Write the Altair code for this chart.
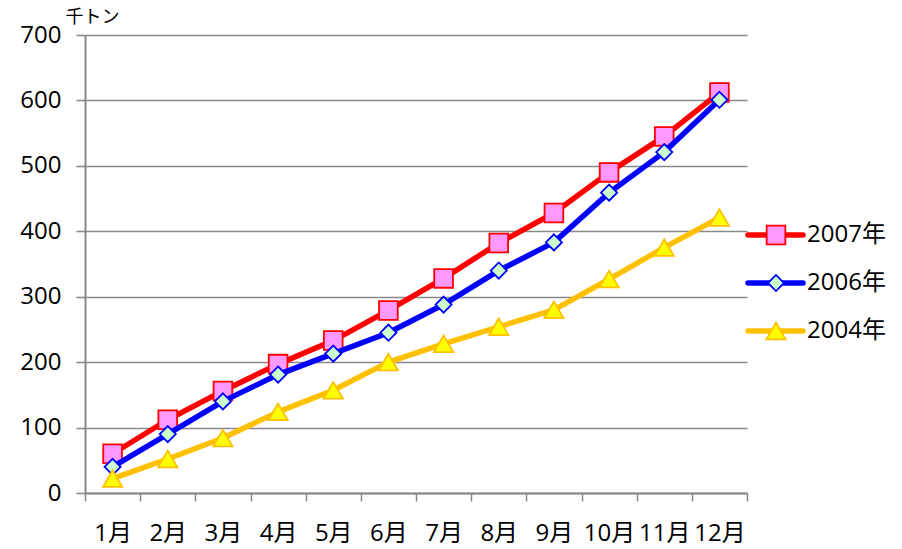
import altair as alt
import pandas as pd

# Monthly cumulative volume (thousand tonnes)
months = ["1月", "2月", "3月", "4月", "5月", "6月", "7月", "8月", "9月", "10月", "11月", "12月"]
v2007 = [60, 112, 156, 197, 233, 279, 328, 382, 428, 490, 545, 612]
v2006 = [40, 90, 140, 181, 213, 245, 288, 340, 383, 459, 521, 601]
v2004 = [22, 52, 84, 124, 157, 200, 228, 254, 280, 327, 375, 421]

series_names = ["2007年", "2006年", "2004年"]
series_values = [v2007, v2006, v2004]
line_colors = ["#FF0000", "#0000FF", "#FFC000"]
marker_fills = ["#FF99FF", "#CCFFCC", "#FFFF00"]
marker_shapes = ["square", "diamond", "triangle-up"]
marker_sizes = [350, 260, 370]

FONT = "'Open Sans', 'Noto Sans CJK JP', sans-serif"
CJK = "'Noto Sans CJK JP', sans-serif"
GRID = "#888888"
FS = 24
LINE_W = 5.5

W, H = 662, 458

rows = []
for name, vals in zip(series_names, series_values):
    for m, v in zip(months, vals):
        rows.append({"series": name, "month": m, "value": v})
df = pd.DataFrame(rows)

x_enc = alt.X(
    "month:N",
    sort=months,
    bandPosition=0.5,
    scale=alt.Scale(type="band", paddingInner=0, paddingOuter=0),
    axis=alt.Axis(
        title=None, labelAngle=0, tickBand="extent", grid=False,
        tickSize=8, tickColor=GRID, tickWidth=1.5,
        domainColor=GRID, domainWidth=2,
        labelFont=FONT, labelFontSize=FS, labelColor="#000000",
        labelPadding=20, labelBaseline="top",
    ),
)
y_enc = alt.Y(
    "value:Q",
    scale=alt.Scale(domain=[0, 700], nice=False, zero=True),
    axis=alt.Axis(
        values=list(range(0, 701, 100)), grid=True,
        gridColor=GRID, gridWidth=1.6,
        tickSize=9, tickColor=GRID, tickWidth=1.6,
        domainColor=GRID, domainWidth=2,
        labelFont=FONT, labelFontSize=FS, labelColor="#000000",
        labelPadding=15,
        title="千トン", titleAngle=0, titleAlign="left", titleBaseline="middle",
        titleX=-20, titleY=-18, titleFont=CJK, titleFontSize=18,
        titleFontWeight="normal", titleColor="#000000",
    ),
)

layers = []
for name, lc, fc, shp, sz in zip(series_names, line_colors, marker_fills, marker_shapes, marker_sizes):
    base = alt.Chart(df).transform_filter(alt.datum.series == name)
    layers.append(
        base.mark_line(color=lc, strokeWidth=LINE_W, strokeJoin="round").encode(x=x_enc, y=y_enc)
    )
    layers.append(
        base.mark_point(shape=shp, size=sz, filled=True, fill=fc, stroke=lc,
                        strokeWidth=1.8, opacity=1).encode(x=x_enc, y=y_enc)
    )

# Legend drawn to the right of the plot area
legend_df = pd.DataFrame({"series": series_names})
LEG_LINE_X0, LEG_LINE_X1, LEG_SYM_X, LEG_TEXT_X = 663, 718, 691, 722
LEG_TOP, LEG_GAP = 200, 48
for i, (name, lc, fc, shp, sz) in enumerate(zip(series_names, line_colors, marker_fills, marker_shapes, marker_sizes)):
    ly = LEG_TOP + i * LEG_GAP
    lb = alt.Chart(legend_df).transform_filter(alt.datum.series == name)
    layers.append(
        lb.mark_rule(color=lc, strokeWidth=LINE_W, strokeCap="round").encode(
            x=alt.value(LEG_LINE_X0), x2=alt.value(LEG_LINE_X1), y=alt.value(ly)
        )
    )
    layers.append(
        lb.mark_point(shape=shp, size=sz, filled=True, fill=fc, stroke=lc,
                      strokeWidth=1.8, opacity=1).encode(
            x=alt.value(LEG_SYM_X), y=alt.value(ly)
        )
    )
    layers.append(
        lb.mark_text(align="left", baseline="middle", font=FONT, fontSize=FS,
                     color="#000000").encode(
            x=alt.value(LEG_TEXT_X), y=alt.value(ly), text="series:N"
        )
    )

chart = (
    alt.layer(*layers)
    .properties(
        width=W, height=H,
        autosize=alt.AutoSizeParams(type="none"),
        padding={"left": 85, "top": 35, "right": 155, "bottom": 56},
        background="#FFFFFF",
    )
    .configure_view(stroke=None)
)

chart.save("out.html", embed_options={"renderer": "svg", "actions": False})
